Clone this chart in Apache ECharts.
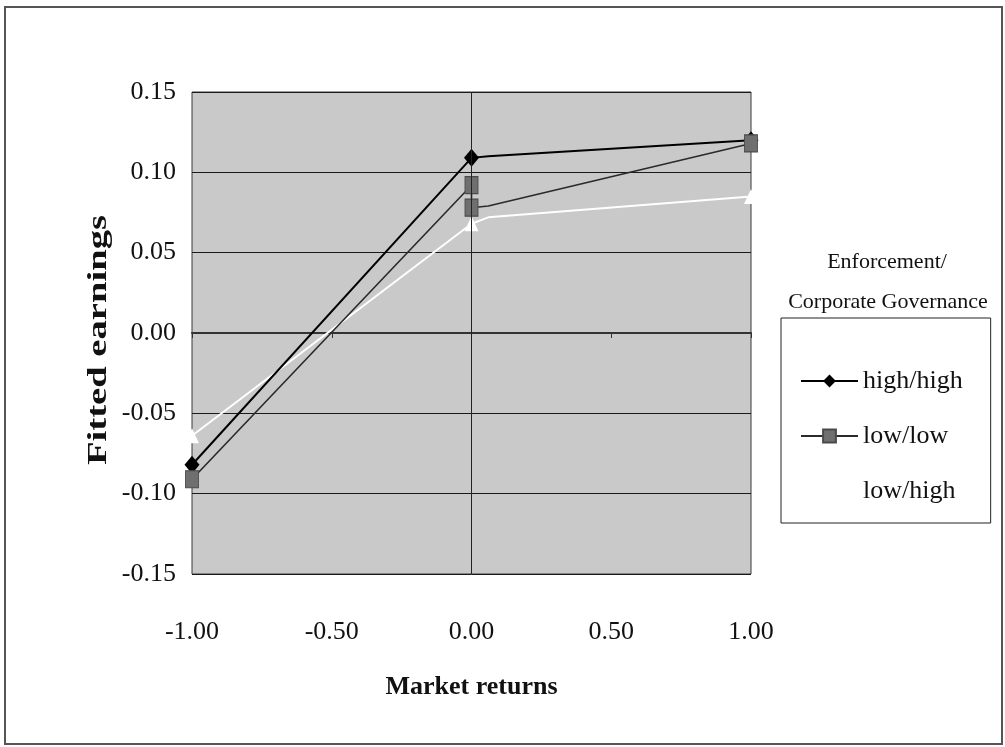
<!DOCTYPE html>
<html>
<head>
<meta charset="utf-8">
<script src="https://cdn.jsdelivr.net/npm/echarts@6/dist/echarts.min.js"></script>
<style>
  html, body { margin: 0; padding: 0; background: #fff; }
  #chart { width: 1005px; height: 747px; }
</style>
</head>
<body>
<div id="chart"></div>
<script>
// Fitted earnings against market returns, by enforcement / corporate governance group
const seriesNames = ['high/high', 'low/low', 'low/high'];

const highHighX = [-1, 0, 0.06, 1];
const highHighY = [-0.082, 0.109, 0.110, 0.120];

const lowLowX = [-1, 0, 0, 0.06, 1];
const lowLowY = [-0.091, 0.092, 0.078, 0.079, 0.118];

const lowHighX = [-1, 0, 0.06, 1];
const lowHighY = [-0.064, 0.068, 0.072, 0.085];

const xTickValues = [-1, -0.5, 0, 0.5, 1];
const yTickValues = [-0.15, -0.10, -0.05, 0, 0.05, 0.10, 0.15];

const FONT = '"Liberation Serif", "Times New Roman", serif';

// markers sit on the whole-number market returns; the other vertices are plain bends
function points(xs, ys) {
  return xs.map((x, i) => {
    const p = { value: [x, ys[i]] };
    if (!Number.isInteger(x)) p.symbol = 'none';
    return p;
  });
}

const chart = echarts.init(document.getElementById('chart'), null, { renderer: 'canvas' });

chart.setOption({
  animation: false,
  backgroundColor: '#ffffff',
  grid: {
    left: 192, right: 254, top: 92, bottom: 173,
    show: true,
    backgroundColor: '#c9c9c9',
    borderColor: '#3a3a3a',
    borderWidth: 1
  },
  xAxis: [
    {
      type: 'value',
      min: xTickValues[0],
      max: xTickValues[xTickValues.length - 1],
      interval: 0.5,
      position: 'bottom',
      axisLine: { show: false, onZero: false },
      axisTick: { show: false },
      splitLine: { show: false },
      axisLabel: {
        margin: 45,
        color: '#111',
        fontFamily: FONT,
        fontSize: 26,
        formatter: v => v.toFixed(2)
      },
      name: 'Market returns',
      nameLocation: 'middle',
      nameGap: 100,
      nameTextStyle: { color: '#111', fontFamily: FONT, fontSize: 26, fontWeight: 'bold' }
    },
    {
      // zero line across the plot, with its small ticks
      type: 'value',
      min: xTickValues[0],
      max: xTickValues[xTickValues.length - 1],
      interval: 0.5,
      position: 'bottom',
      axisLine: { show: true, onZero: true, lineStyle: { color: '#333', width: 2 } },
      axisTick: { show: true, length: 5, lineStyle: { color: '#333', width: 1 } },
      axisLabel: { show: false },
      splitLine: { show: false }
    }
  ],
  yAxis: {
    type: 'value',
    min: yTickValues[0],
    max: yTickValues[yTickValues.length - 1],
    interval: 0.05,
    axisLine: { show: false, onZero: false },
    axisTick: { show: false },
    splitLine: { show: true, lineStyle: { color: '#1a1a1a', width: 1 } },
    axisLabel: {
      margin: 16,
      color: '#111',
      fontFamily: FONT,
      fontSize: 26,
      padding: [4, 0, 0, 0],
      formatter: v => v.toFixed(2)
    }
  },
  legend: {
    orient: 'vertical',
    left: 781,
    top: 318,
    padding: [49, 28, 18, 19],
    itemGap: 27,
    itemWidth: 57,
    itemHeight: 16,
    borderColor: '#222',
    borderWidth: 1,
    data: seriesNames,
    textStyle: { color: '#111', fontFamily: FONT, fontSize: 26, lineHeight: 28 }
  },
  graphic: [
    {
      type: 'rect',
      shape: { x: 5, y: 7, width: 997, height: 737 },
      style: { fill: 'none', stroke: '#555', lineWidth: 2 },
      silent: true
    },
    {
      // y-axis title, drawn wide and rotated
      type: 'text',
      x: 99,
      y: 340,
      rotation: Math.PI / 2,
      scaleX: 1.38,
      style: {
        text: 'Fitted earnings',
        align: 'center', verticalAlign: 'middle',
        fill: '#111', font: 'bold 28px ' + FONT
      },
      silent: true
    },
    {
      type: 'text',
      x: 887,
      y: 262,
      style: {
        text: 'Enforcement/',
        align: 'center', verticalAlign: 'middle',
        fill: '#111', font: '22px ' + FONT
      },
      silent: true
    },
    {
      type: 'text',
      x: 888,
      y: 302,
      style: {
        text: 'Corporate Governance',
        align: 'center', verticalAlign: 'middle',
        fill: '#111', font: '22px ' + FONT
      },
      silent: true
    }
  ],
  series: [
    {
      name: seriesNames[0],
      type: 'line',
      data: points(highHighX, highHighY),
      symbol: 'diamond',
      symbolSize: [15, 18],
      itemStyle: { color: '#000' },
      lineStyle: { color: '#000', width: 2 },
      markLine: {
        silent: true,
        symbol: 'none',
        label: { show: false },
        lineStyle: { color: '#222', width: 1, type: 'solid' },
        data: [{ xAxis: 0 }]
      },
      z: 3
    },
    {
      name: seriesNames[1],
      type: 'line',
      data: points(lowLowX, lowLowY),
      symbol: 'rect',
      symbolSize: [13, 17],
      itemStyle: { color: '#6f6f6f', borderColor: '#4a4a4a', borderWidth: 1 },
      lineStyle: { color: '#2a2a2a', width: 1.6 },
      z: 4
    },
    {
      name: seriesNames[2],
      type: 'line',
      data: points(lowHighX, lowHighY),
      symbol: 'triangle',
      symbolSize: [14, 15],
      itemStyle: { color: '#ffffff' },
      lineStyle: { color: '#ffffff', width: 2 },
      z: 2
    }
  ]
});
</script>
</body>
</html>
